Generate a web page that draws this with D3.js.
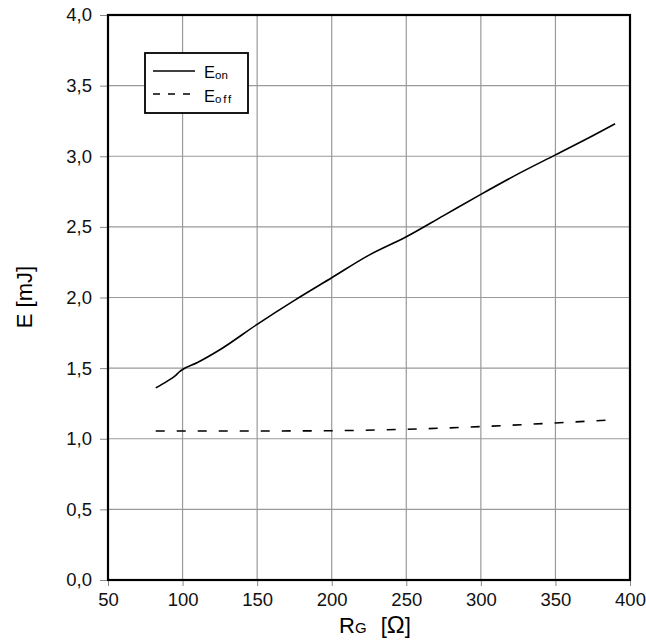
<!DOCTYPE html>
<html><head><meta charset="utf-8">
<script src="https://cdn.jsdelivr.net/npm/d3@7"></script>
<style>body{margin:0;background:#fff}svg{display:block}text{font-family:"Liberation Sans",Arial,sans-serif}</style>
</head><body>
<svg id="c" width="646" height="641"></svg>
<script>
const xTicks = [50,100,150,200,250,300,350,400];
const yTicks = [0,0.5,1.0,1.5,2.0,2.5,3.0,3.5,4.0];
const eonX = [82,90,95,98,100,110,125,150,175,200,225,250,275,300,325,350,375,390];
const eonY = [1.36,1.41,1.445,1.475,1.49,1.54,1.63,1.81,1.98,2.14,2.30,2.43,2.58,2.73,2.875,3.01,3.145,3.23];
const eoffX = [82,100,150,200,250,300,350,390];
const eoffY = [1.055,1.055,1.055,1.057,1.067,1.086,1.112,1.135];

const svg = d3.select("#c");
const L=108,R=630,T=15,B=580;
const x = d3.scaleLinear().domain([50,400]).range([L,R]);
const y = d3.scaleLinear().domain([0,4]).range([B,T]);
const fmt = d => d.toFixed(1).replace(".",",");

// grid
svg.append("g").selectAll("line").data(xTicks.slice(1,-1)).join("line")
  .attr("x1",d=>x(d)).attr("x2",d=>x(d)).attr("y1",T).attr("y2",B)
  .attr("stroke","#9a9a9a").attr("stroke-width",1.2);
svg.append("g").selectAll("line").data(yTicks.slice(1,-1)).join("line")
  .attr("y1",d=>y(d)).attr("y2",d=>y(d)).attr("x1",L).attr("x2",R)
  .attr("stroke","#9a9a9a").attr("stroke-width",1.2);

// axes
const xa = svg.append("g").attr("transform",`translate(0,${B})`)
  .call(d3.axisBottom(x).tickValues(xTicks).tickSize(6).tickPadding(7).tickFormat(d3.format("d")));
const ya = svg.append("g").attr("transform",`translate(${L},0)`)
  .call(d3.axisLeft(y).tickValues(yTicks).tickSize(8).tickPadding(8).tickFormat(fmt));
[xa,ya].forEach(a=>{
  a.select(".domain").remove();
  a.selectAll(".tick line").attr("stroke","#888");
  a.selectAll(".tick text").attr("font-size",18.5).attr("fill","#111")
   .style("font-family","'Liberation Sans',Arial,sans-serif");
});

// frame
svg.append("rect").attr("x",L).attr("y",T).attr("width",R-L).attr("height",B-T)
  .attr("fill","none").attr("stroke","#000").attr("stroke-width",2.2);

// lines
const line = d3.line().x(d=>x(d[0])).y(d=>y(d[1])).curve(d3.curveMonotoneX);
svg.append("path").datum(eonX.map((v,i)=>[v,eonY[i]])).attr("d",line)
  .attr("fill","none").attr("stroke","#000").attr("stroke-width",1.6);
svg.append("path").datum(eoffX.map((v,i)=>[v,eoffY[i]])).attr("d",line)
  .attr("fill","none").attr("stroke","#000").attr("stroke-width",1.6).attr("stroke-dasharray","9,12");

// legend
const lg = svg.append("g");
lg.append("rect").attr("x",145).attr("y",53).attr("width",103).attr("height",60)
  .attr("fill","#fff").attr("stroke","#000").attr("stroke-width",1.8);
lg.append("line").attr("x1",153).attr("x2",195).attr("y1",71).attr("y2",71).attr("stroke","#000").attr("stroke-width",1.4);
lg.append("line").attr("x1",153).attr("x2",195).attr("y1",94).attr("y2",94).attr("stroke","#000").attr("stroke-width",1.4).attr("stroke-dasharray","7,8");
const t1 = lg.append("text").attr("x",204).attr("y",78).attr("font-size",16.5);
t1.append("tspan").text("E");
t1.append("tspan").attr("font-size",11.5).attr("dy",1).text("on");
const t2 = lg.append("text").attr("x",204).attr("y",102).attr("font-size",16.5);
t2.append("tspan").text("E");
t2.append("tspan").attr("font-size",11.5).attr("dy",1).attr("letter-spacing",1.8).text("off");

// axis labels
const xl = svg.append("text").attr("x",339).attr("y",633).attr("font-size",22).attr("xml:space","preserve");
xl.append("tspan").text("R");
xl.append("tspan").attr("font-size",15).text("G");
xl.append("tspan").attr("dx",8).text(" [");
xl.append("tspan").attr("font-size",24).text("Ω");
xl.append("tspan").text("]");
svg.append("text").attr("transform","translate(32,297) rotate(-90)").attr("text-anchor","middle")
  .attr("font-size",22).text("E [mJ]");
</script>
</body></html>
